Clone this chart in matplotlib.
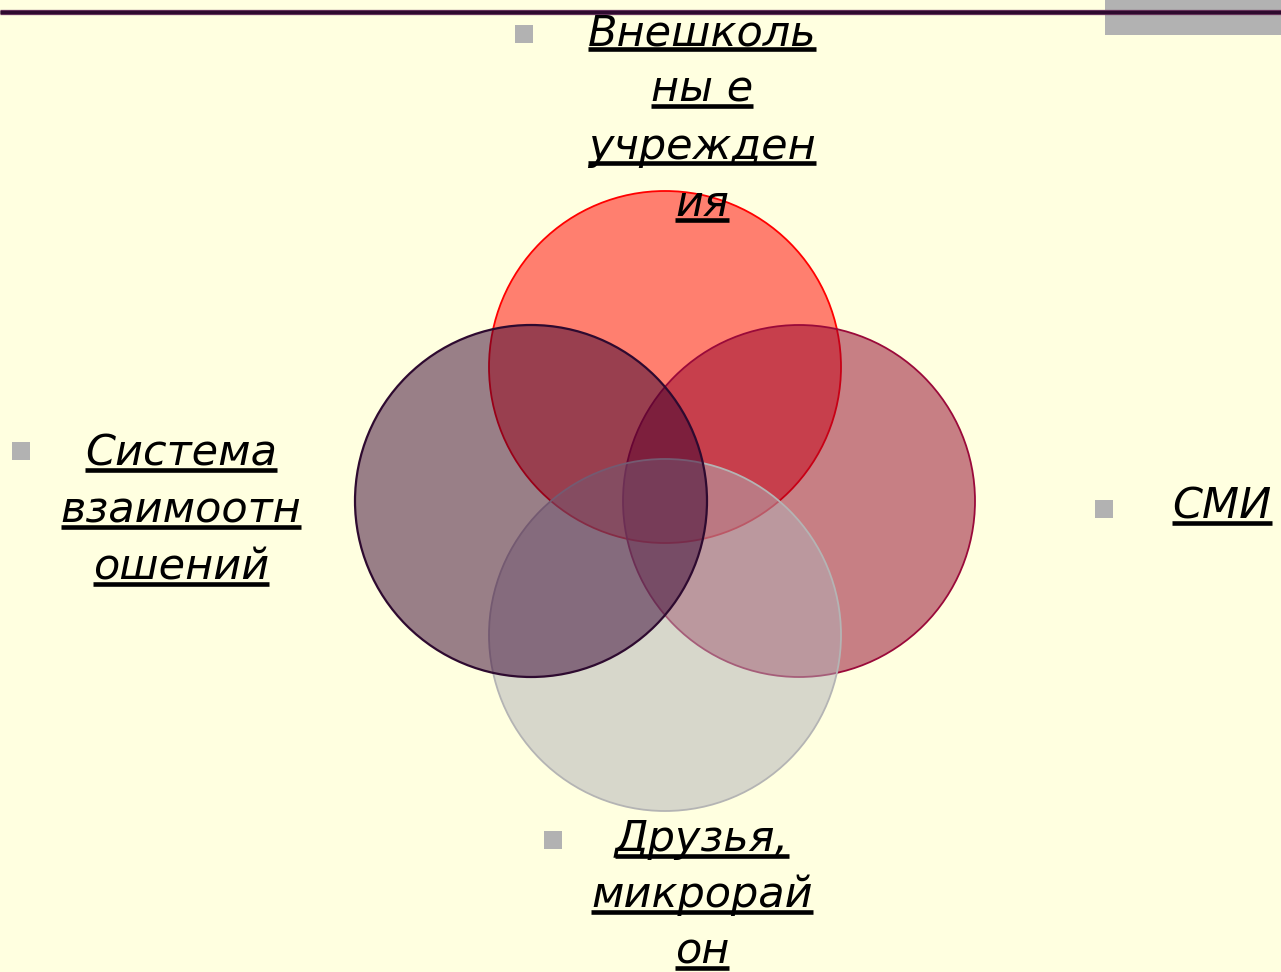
import matplotlib
matplotlib.use("Agg")
import matplotlib.pyplot as plt
from matplotlib.patches import Circle, Rectangle

# ---- Data (listed in drawing order)
circle_names = ["top", "right", "bottom", "left"]
circle_faces = ["#FF0100", "#91002A", "#B1B1B8", "#350130"]
circle_edges = ["#FF0000", "#9A0A3A", "#B4B4B4", "#2E0A30"]

label_lines = {
    "top": ["Внешколь", "ны е", "учрежден", "ия"],
    "left": ["Система", "взаимоотн", "ошений"],
    "right": ["СМИ"],
    "bottom": ["Друзья,", "микрорай", "он"],
}

# ---- Layout (pixels, y downwards)
W, H = 1281, 972
BG = "#FFFFE0"
center = (665, 501)
offset = 134
radius = 176
directions = {"top": (0, -1), "right": (1, 0), "left": (-1, 0), "bottom": (0, 1)}

# label anchor: text centre x, first baseline y, bullet centre (x, y)
label_pos = {
    "top": (702, 45, (524, 34)),
    "left": (181, 465, (21, 451)),
    "right": (1222, 518, (1104, 509)),
    "bottom": (702, 851, (553, 840)),
}
line_step = 57
fontsize = 31

fig = plt.figure(figsize=(W / 100, H / 100), dpi=100, facecolor=BG)
ax = fig.add_axes([0, 0, 1, 1])
ax.set_xlim(0, W)
ax.set_ylim(H, 0)
ax.set_facecolor(BG)
ax.axis("off")

# ---- Header decoration
ax.add_patch(Rectangle((1105, 0), W - 1105, 35, color="#B2B2B2", lw=0, zorder=1))
ax.plot([0, W], [12.5, 12.5], color="#6E3A62", lw=3.8, solid_capstyle="butt", zorder=2)
ax.plot([0, W], [12.5, 12.5], color="#2E0A2E", lw=2.4, solid_capstyle="butt", zorder=3)

# ---- Circles
for i, (name, fc, ec) in enumerate(zip(circle_names, circle_faces, circle_edges)):
    dx, dy = directions[name]
    cx, cy = center[0] + dx * offset, center[1] + dy * offset
    face = matplotlib.colors.to_rgba(fc, 0.5)
    lw = 1.6 if name == "left" else 1.3
    ax.add_patch(Circle((cx, cy), radius, facecolor=face, edgecolor=ec,
                        lw=lw, zorder=4 + i))

# ---- Labels
texts = []
for name, lines in label_lines.items():
    x, y0, (bx, by) = label_pos[name]
    ax.scatter([bx], [by], marker="s", s=185, color="#B2B2B2", lw=0, zorder=10)
    step = 56 if name == "bottom" else line_step
    for k, line in enumerate(lines):
        yb = y0 + k * step
        t = ax.text(x, yb, line, ha="center", va="baseline", fontsize=fontsize,
                    style="italic", family="DejaVu Sans", color="black", zorder=11)
        texts.append((t, yb))

fig.canvas.draw()
renderer = fig.canvas.get_renderer()
inv = ax.transData.inverted()
for t, yb in texts:
    bb = t.get_window_extent(renderer)
    (x0, _), (x1, _) = inv.transform([(bb.x0, bb.y0), (bb.x1, bb.y1)])
    ax.plot([x0, x1], [yb + 4.5, yb + 4.5], color="black", lw=3.3,
            solid_capstyle="butt", zorder=12)

fig.savefig("out.png", dpi=100, facecolor=BG)
